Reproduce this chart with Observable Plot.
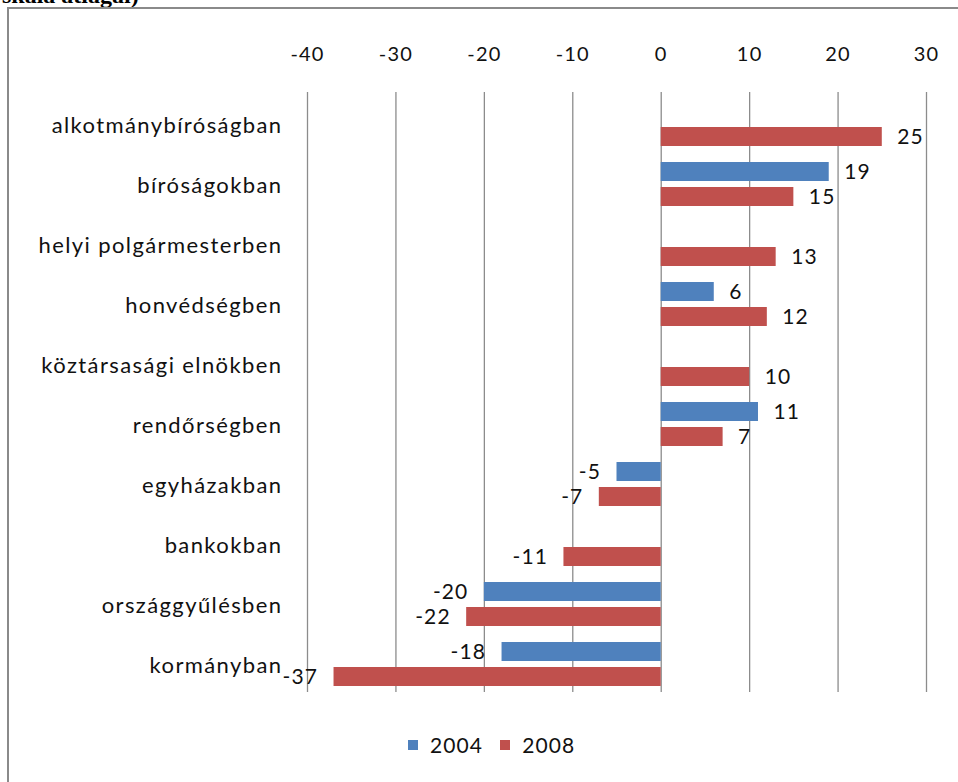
<!DOCTYPE html>
<html>
<head>
<meta charset="utf-8">
<script src="https://cdn.jsdelivr.net/npm/d3@7"></script>
<script src="https://cdn.jsdelivr.net/npm/@observablehq/plot@0.6"></script>
<style>
  html, body { margin: 0; padding: 0; background: #fff; }
  #page { position: relative; width: 958px; height: 782px; overflow: hidden; font-family: Lato, "Open Sans", sans-serif; }
  #cut { position: absolute; left: 2px; top: -17px; font: bold 24px/24px "Liberation Serif", serif; color: #000; white-space: nowrap; }
  #frame { position: absolute; left: 7px; top: 7px; width: 1000px; height: 1000px; border-top: 2px solid #8a8a8a; border-left: 2px solid #8a8a8a; }
  #chart { position: absolute; left: 0; top: 0; }
  #chart g[aria-label="fy-axis tick label"] text { letter-spacing: 1.4px; }
  #chart g[aria-label="x-axis tick label"] text { letter-spacing: 1.2px; }
  #chart g[aria-label="text"] text { letter-spacing: 1.1px; }
  #legend { position: absolute; left: 408px; top: 732px; display: flex; align-items: center; font-size: 21px; color: #111; letter-spacing: 1.1px; }
  .sw { width: 10px; height: 10px; display: inline-block; margin-right: 12px; }
  .item { display: flex; align-items: center; margin-right: 17px; }
</style>
</head>
<body>
<div id="page">
  <div id="cut">skála átlagai)</div>
  <div id="frame"></div>
  <div id="chart"></div>
  <div id="legend"></div>
</div>
<script>
const categories = ["alkotmánybíróságban", "bíróságokban", "helyi polgármesterben", "honvédségben", "köztársasági elnökben", "rendőrségben", "egyházakban", "bankokban", "országgyűlésben", "kormányban"];
const years = ["2004", "2008"];
const values2004 = [null, 19, null, 6, null, 11, -5, null, -20, -18];
const values2008 = [25, 15, 13, 12, 10, 7, -7, -11, -22, -37];
const xTicks = [-40, -30, -20, -10, 0, 10, 20, 30];
const colors = ["#4F81BD", "#C0504D"];

const rows = [];
categories.forEach((c, i) => {
  if (values2004[i] != null) rows.push({cat: c, year: "2004", value: values2004[i]});
  if (values2008[i] != null) rows.push({cat: c, year: "2008", value: values2008[i]});
});

const chart = Plot.plot({
  width: 958,
  height: 720,
  marginTop: 92,
  marginLeft: 307,
  marginRight: 32,
  marginBottom: 28,
  style: {fontFamily: "Lato, 'Open Sans', sans-serif", color: "#111", background: "transparent"},
  x: {domain: [-40, 30]},
  y: {domain: years, paddingInner: 0.23, paddingOuter: 0.27, align: 0.64, axis: null},
  fy: {domain: categories, padding: 0},
  color: {domain: years, range: colors},
  marks: [
    Plot.gridX(xTicks, {stroke: "#8c8c8c", strokeOpacity: 1, strokeWidth: 1.3}),
    Plot.axisX({anchor: "top", ticks: xTicks, tickFormat: d => String(d), tickSize: 0, tickPadding: 32, fontSize: 20, label: null}),
    Plot.axisFy({anchor: "left", tickSize: 0, tickPadding: 25, dy: 3, fontSize: 22, label: null}),
    Plot.barX(rows, {x: "value", y: "year", fy: "cat", fill: "year"}),
    Plot.text(rows, {filter: d => d.value >= 0, x: "value", y: "year", fy: "cat", text: d => String(d.value), textAnchor: "start", dx: 15, fontSize: 21, fill: "#111"}),
    Plot.text(rows, {filter: d => d.value < 0, x: "value", y: "year", fy: "cat", text: d => String(d.value), textAnchor: "end", dx: -16, fontSize: 21, fill: "#111"})
  ]
});
document.getElementById("chart").appendChild(chart);

const legend = document.getElementById("legend");
years.forEach((y, i) => {
  const item = document.createElement("div");
  item.className = "item";
  const sw = document.createElement("span");
  sw.className = "sw";
  sw.style.background = colors[i];
  item.appendChild(sw);
  const t = document.createElement("span");
  t.textContent = y;
  item.appendChild(t);
  legend.appendChild(item);
});
</script>
</body>
</html>
